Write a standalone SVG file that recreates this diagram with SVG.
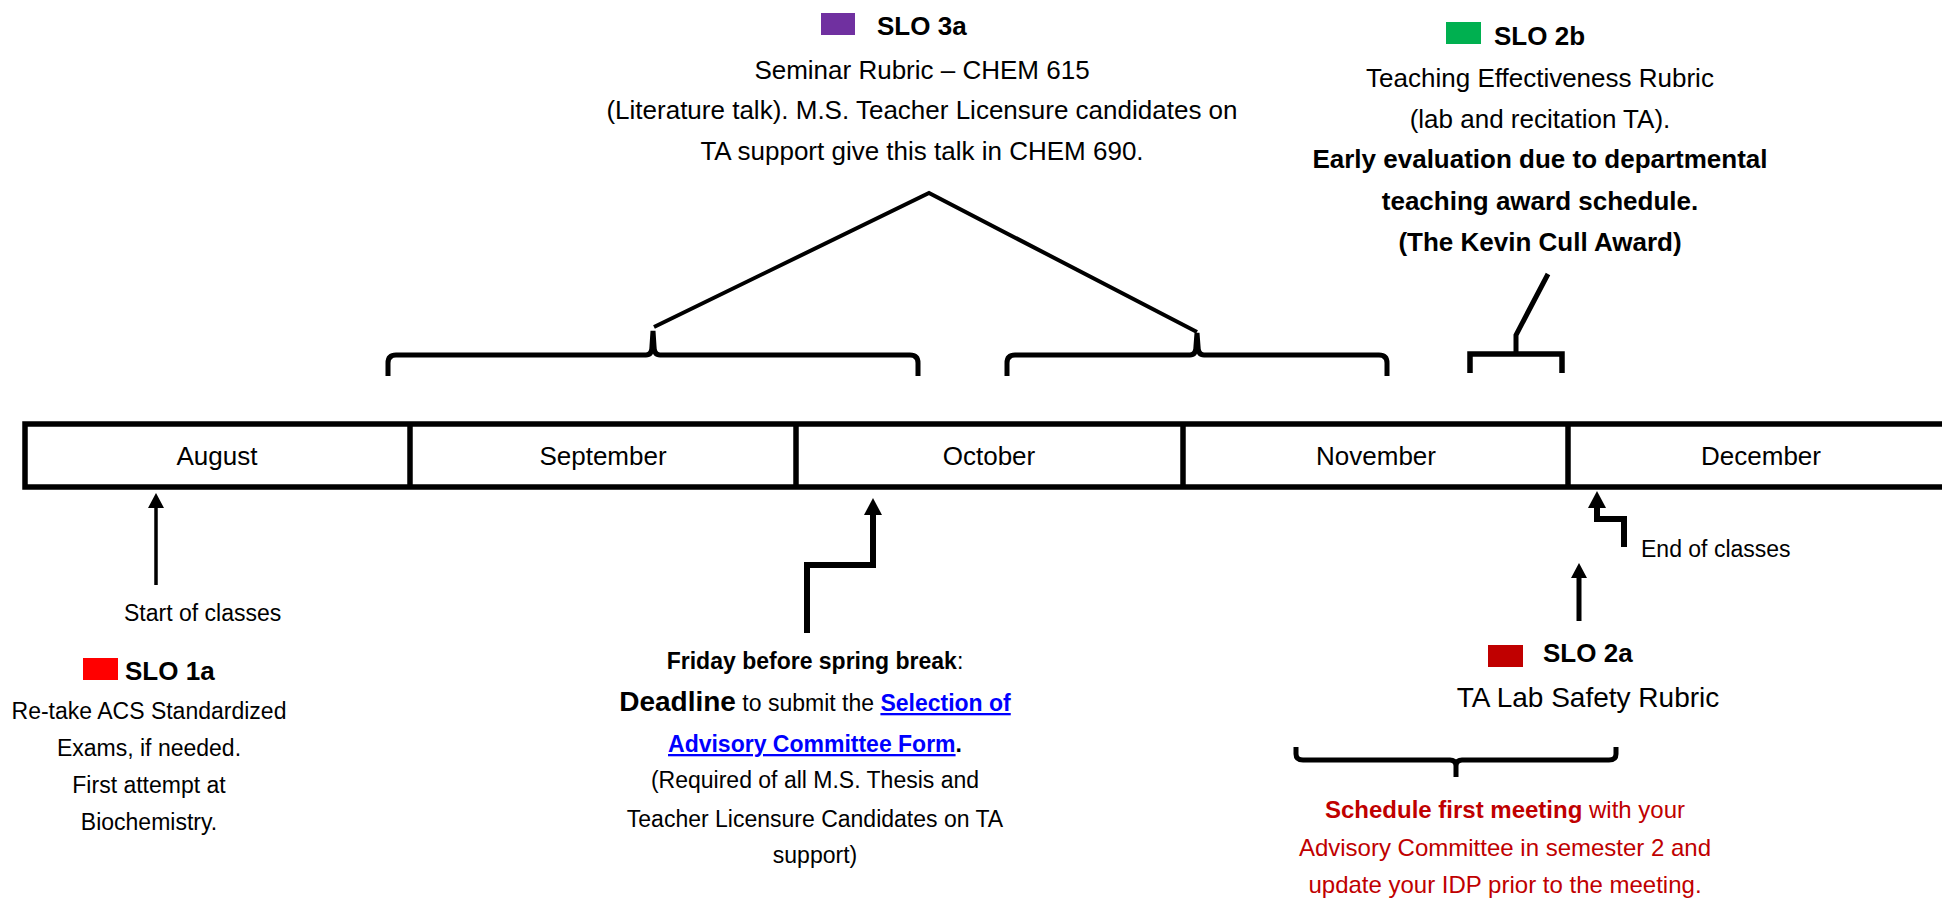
<svg xmlns="http://www.w3.org/2000/svg" width="1942" height="898" viewBox="0 0 1942 898">
<style>
text{font-family:"Liberation Sans",Arial,sans-serif;fill:#000}
.m{font-size:26px;text-anchor:middle}
.b{font-weight:bold}
.t26{font-size:26px}
.t23{font-size:23px}
.t24{font-size:24px}
.t28{font-size:28px}
.c{text-anchor:middle}
.red{fill:#C00000}
.link{fill:#0000FF;font-weight:bold;text-decoration:underline}
.ln{fill:none;stroke:#000;stroke-linejoin:miter}
</style>
<defs>
<marker id="ah" markerUnits="userSpaceOnUse" markerWidth="18" markerHeight="18" refX="0" refY="9" orient="auto">
<path d="M0,0 L17,9 L0,18 z" fill="#000"/>
</marker>
<marker id="ahs" markerUnits="userSpaceOnUse" markerWidth="16" markerHeight="16" refX="0" refY="8" orient="auto">
<path d="M0,0 L15,8 L0,16 z" fill="#000"/>
</marker>
</defs>

<g id="timeline">
<rect x="25" y="424" width="1935" height="63" fill="#fff" stroke="#000" stroke-width="5.5"/>
<line x1="410" y1="424" x2="410" y2="487" stroke="#000" stroke-width="5.5"/>
<line x1="796" y1="424" x2="796" y2="487" stroke="#000" stroke-width="5.5"/>
<line x1="1183" y1="424" x2="1183" y2="487" stroke="#000" stroke-width="5.5"/>
<line x1="1568" y1="424" x2="1568" y2="487" stroke="#000" stroke-width="5.5"/>
</g>
<g id="month-august"><text class="m" x="217" y="465">August</text></g>
<g id="month-september"><text class="m" x="603" y="465">September</text></g>
<g id="month-october"><text class="m" x="989" y="465">October</text></g>
<g id="month-november"><text class="m" x="1376" y="465">November</text></g>
<g id="month-december"><text class="m" x="1761" y="465">December</text></g>

<g id="connectors">
<!-- seminar brackets -->
<path class="ln" stroke-width="5" d="M388,376 L388,363 Q388,355 396,355 L646,355 Q652,355 652,346 L653,331 L654,346 Q654,355 660,355 L910,355 Q918,355 918,363 L918,376"/>
<path class="ln" stroke-width="5" d="M1007,376 L1007,363 Q1007,355 1015,355 L1190,355 Q1196,355 1196,346 L1197,333 L1198,346 Q1198,355 1204,355 L1379,355 Q1387,355 1387,363 L1387,376"/>
<path class="ln" stroke-width="4" d="M654,327 L929,193 L1197,332"/>
<!-- teaching bracket -->
<path class="ln" stroke-width="5.5" d="M1470,373 L1470,354 L1562,354 L1562,373"/>
<path class="ln" stroke-width="5" d="M1516,354 L1516,335 L1548,274"/>
<!-- start of classes -->
<path class="ln" stroke-width="3.5" d="M156,585 L156,508" marker-end="url(#ahs)"/>
<!-- october deadline -->
<path class="ln" stroke-width="6" d="M807,633 L807,565 L873,565 L873,515" marker-end="url(#ah)"/>
<!-- end of classes -->
<path class="ln" stroke-width="6" d="M1624,547 L1624,519 L1597,519 L1597,508" marker-end="url(#ah)"/>
<!-- lab safety arrow -->
<path class="ln" stroke-width="5" d="M1579,621 L1579,578" marker-end="url(#ahs)"/>
<!-- advisory bracket -->
<path class="ln" stroke-width="5" d="M1296,747 L1296,754 Q1296,760 1303,760 L1450,760 Q1456,760 1456,766 L1456,777 M1456,766 Q1456,760 1462,760 L1609,760 Q1616,760 1616,754 L1616,747"/>
</g>

<g id="slo3a">
<rect x="821" y="13" width="34" height="22" fill="#7030A0"/>
<text class="b t26" x="877" y="35">SLO 3a</text>
<text class="m" x="922" y="79">Seminar Rubric – CHEM 615</text>
<text class="m" x="922" y="119">(Literature talk). M.S. Teacher Licensure candidates on</text>
<text class="m" x="922" y="160">TA support give this talk in CHEM 690.</text>
</g>

<g id="slo2b">
<rect x="1446" y="22" width="35" height="22" fill="#00B050"/>
<text class="b t26" x="1494" y="45">SLO 2b</text>
<text class="m" x="1540" y="87">Teaching Effectiveness Rubric</text>
<text class="m" x="1540" y="128">(lab and recitation TA).</text>
<text class="m b" x="1540" y="168">Early evaluation due to departmental</text>
<text class="m b" x="1540" y="210">teaching award schedule.</text>
<text class="m b" x="1540" y="251">(The Kevin Cull Award)</text>
</g>

<g id="start-of-classes">
<text class="t23" x="124" y="621">Start of classes</text>
</g>

<g id="slo1a">
<rect x="83" y="658" width="35" height="22" fill="#FF0000"/>
<text class="b t26" x="125" y="680">SLO 1a</text>
<text class="t23 c" x="149" y="719">Re-take ACS Standardized</text>
<text class="t23 c" x="149" y="756">Exams, if needed.</text>
<text class="t23 c" x="149" y="793">First attempt at</text>
<text class="t23 c" x="149" y="830">Biochemistry.</text>
</g>

<g id="deadline">
<text class="t23 c" x="815" y="669"><tspan class="b">Friday before spring break</tspan>:</text>
<text class="t23 c" x="815" y="711"><tspan class="b t28">Deadline</tspan> to submit the <tspan class="link">Selection of</tspan></text>
<text class="t23 c" x="815" y="752"><tspan class="link">Advisory Committee Form</tspan><tspan class="b">.</tspan></text>
<text class="t23 c" x="815" y="788">(Required of all M.S. Thesis and</text>
<text class="t23 c" x="815" y="827">Teacher Licensure Candidates on TA</text>
<text class="t23 c" x="815" y="863">support)</text>
</g>

<g id="end-of-classes">
<text class="t23" x="1641" y="557">End of classes</text>
</g>

<g id="slo2a">
<rect x="1488" y="645" width="35" height="22" fill="#C00000"/>
<text class="b t26" x="1543" y="662">SLO 2a</text>
<text class="t28 c" x="1588" y="707">TA Lab Safety Rubric</text>
</g>

<g id="advisory-meeting">
<text class="t24 c red" x="1505" y="818"><tspan class="b">Schedule first meeting</tspan> with your</text>
<text class="t24 c red" x="1505" y="856">Advisory Committee in semester 2 and</text>
<text class="t24 c red" x="1505" y="893">update your IDP prior to the meeting.</text>
</g>
</svg>
